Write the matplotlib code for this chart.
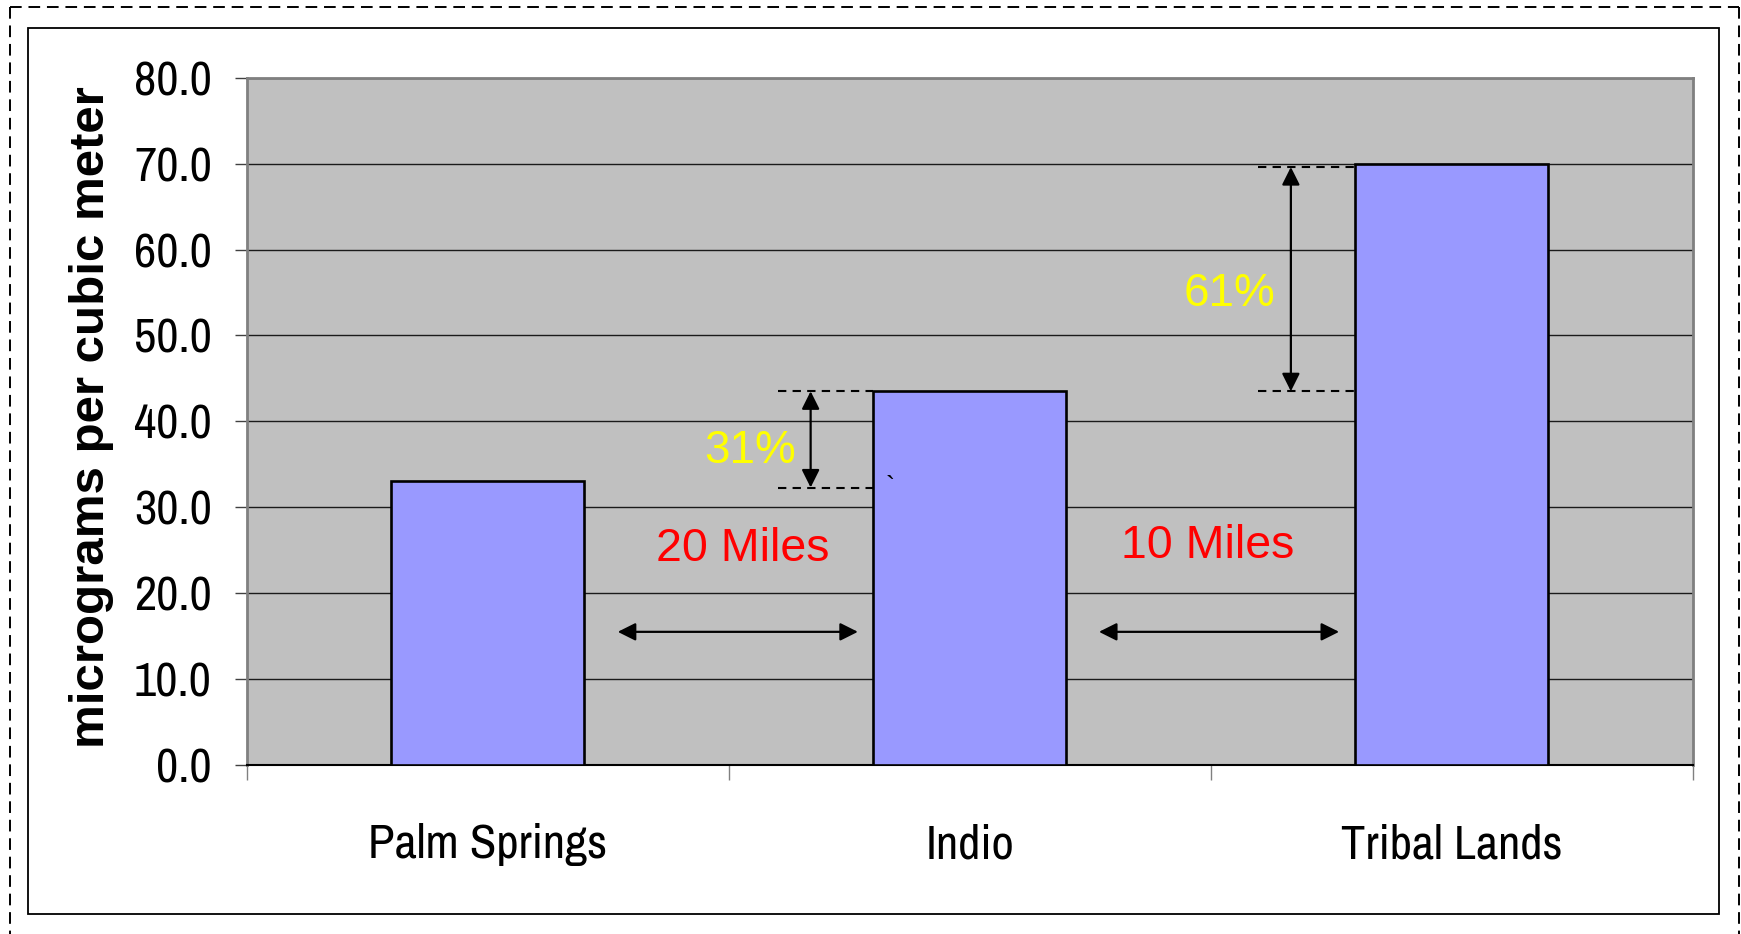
import matplotlib
matplotlib.use("Agg")
import matplotlib.pyplot as plt
from matplotlib import font_manager
from matplotlib.lines import Line2D
from matplotlib.patches import Rectangle

# PM10 concentrations at three sites
sites = ["Palm Springs", "Indio", "Tribal Lands"]
concentration = [33.1, 43.5, 70.0]
y_ticks = [0, 10, 20, 30, 40, 50, 60, 70, 80]
y_tick_labels = ["0.0", "10.0", "20.0", "30.0", "40.0", "50.0", "60.0", "70.0", "80.0"]
distance_labels = ["20 Miles", "10 Miles"]
# lower / upper levels spanned by the percentage-increase brackets
bracket_low = [32.3, 43.5]
bracket_high = [43.5, 69.6]

installed = {f.name for f in font_manager.fontManager.ttflist}
narrow = next((n for n in ["Liberation Sans Narrow", "Arial Narrow", "Archivo Narrow",
                           "Roboto Condensed", "PT Sans Narrow", "Pragati Narrow",
                           "Liberation Sans"] if n in installed), "DejaVu Sans")
regular = "Liberation Sans"

W, H = 1741, 934
fig = plt.figure(figsize=(W / 100, H / 100), dpi=100)
fig.patch.set_facecolor("white")

def fx(px):
    return px / W

def fy(py):
    return 1 - py / H

# outer dashed frame (top, left, right) and inner solid frame
for xs, ys in [((10, 10), (7, 934)), ((10, 1739), (7, 7)), ((1739, 1739), (7, 934))]:
    fig.add_artist(Line2D([fx(x) for x in xs], [fy(y) for y in ys],
                          transform=fig.transFigure, color="black", lw=1.4,
                          linestyle=(0, (6, 3.5))))
fig.add_artist(Rectangle((fx(28), fy(914)), fx(1719) - fx(28), fy(28) - fy(914),
                         transform=fig.transFigure, fill=False, edgecolor="black", lw=1.3))

left, right, top, bottom = 246.5, 1693, 77.7, 765
ax = fig.add_axes([fx(left), fy(bottom), fx(right) - fx(left), fy(top) - fy(bottom)])
ax.set_facecolor("#C0C0C0")
ax.set_xlim(-0.5, len(sites) - 0.5)
ax.set_ylim(0, 80)

ax.bar(range(len(sites)), concentration, width=0.4, color="#9999FF",
       edgecolor="black", linewidth=1.9, zorder=3)

# gridlines
ax.set_yticks(y_ticks)
ax.set_yticklabels(y_tick_labels, fontsize=35, family=narrow)
ax.yaxis.grid(True, color="#1a1a1a", lw=1.0, zorder=1)
ax.set_axisbelow(True)
ax.tick_params(axis="y", length=9, width=1.0, color="#404040", pad=16)

# category separators as major ticks, names as minor ticks
ax.set_xticks([i - 0.5 for i in range(len(sites) + 1)])
ax.set_xticklabels([])
ax.tick_params(axis="x", which="major", length=11, width=1.0, color="#808080")
ax.set_xticks(range(len(sites)), minor=True)
ax.set_xticklabels(sites, minor=True, fontsize=35, family=narrow)
ax.tick_params(axis="x", which="minor", length=0, pad=42)

for side in ("top", "right", "left"):
    ax.spines[side].set_color("#808080")
    ax.spines[side].set_linewidth(2.0)
ax.spines["bottom"].set_color("black")
ax.spines["bottom"].set_linewidth(1.5)

ax.set_ylabel("micrograms per cubic meter", fontsize=35.5, fontweight="bold",
              family=regular)
ax.yaxis.set_label_coords(-0.0916, 0.506)

arrow_style = "<|-|>,head_length=0.54,head_width=0.27"

# percentage-increase brackets between neighbouring sites
pct = [round((concentration[i + 1] / concentration[i] - 1) * 100) for i in range(2)]
bracket_x = [0.670, 1.666]
dash_start = [0.602, 1.598]
pct_pos = [(0.544, 36.6), (1.538, 54.8)]
for i in range(2):
    for lvl in (bracket_low[i], bracket_high[i]):
        ax.plot([dash_start[i], i + 1 - 0.2], [lvl, lvl], color="black", lw=1.5,
                linestyle=(0, (4, 3)), zorder=4)
    ax.annotate("", xy=(bracket_x[i], bracket_high[i]), xytext=(bracket_x[i], bracket_low[i]),
                arrowprops=dict(arrowstyle=arrow_style, color="black", lw=1.6,
                                mutation_scale=20, shrinkA=0, shrinkB=0),
                zorder=5)
    ax.text(pct_pos[i][0], pct_pos[i][1], f"{pct[i]}%", color="#FFFF00", fontsize=33,
            family=regular, ha="center", va="center", zorder=6)

# distances between sites
dist_x = [(0.270, 0.768), (1.268, 1.766)]
dist_text = [(0.530, 25.1), (1.494, 25.45)]
for i in range(2):
    ax.annotate("", xy=(dist_x[i][1], 15.5), xytext=(dist_x[i][0], 15.5),
                arrowprops=dict(arrowstyle=arrow_style, color="black", lw=1.6,
                                mutation_scale=20, shrinkA=0, shrinkB=0),
                zorder=5)
    ax.text(dist_text[i][0], dist_text[i][1], distance_labels[i], color="#FF0000",
            fontsize=33.5, family=regular, ha="center", va="center", zorder=6)

ax.text(0.835, 32.3, "`", color="black", fontsize=20, family=regular,
        ha="center", va="center", zorder=6)

fig.savefig("out.png", dpi=100)
